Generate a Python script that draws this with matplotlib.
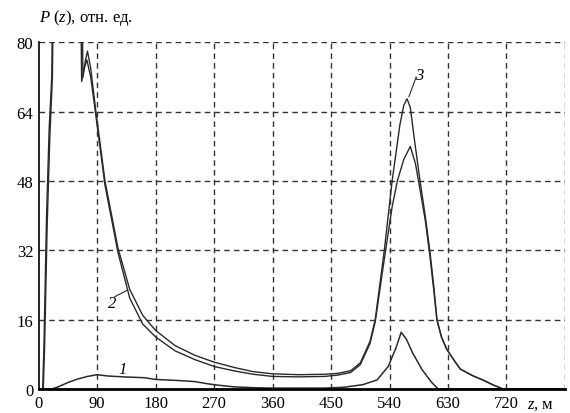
import numpy as np
import matplotlib.pyplot as plt

# кривая 1
z1 = [0, 20, 30, 45, 60, 75, 90, 106, 130, 163, 180, 210, 241, 260, 275, 300, 330, 360,
      440, 470, 499, 521, 538, 550, 558, 566, 575, 590, 605, 615, 810]
p1 = [0, 0, 0.5, 1.5, 2.3, 2.9, 3.3, 3.0, 2.8, 2.6, 2.2, 2.0, 1.7, 1.2, 0.9, 0.5, 0.3, 0.2,
      0.2, 0.4, 1.0, 2.1, 5.2, 9.5, 13.1, 11.5, 8.5, 4.5, 1.5, 0, 0]

# кривая 2
z2 = [0, 7, 9, 13, 17, 21, 23, 64, 66, 70, 74, 80, 88, 102, 122, 140, 160, 180, 210, 240,
      270, 300, 330, 360, 400, 440, 460, 480, 495, 510, 518, 532, 544, 552, 562, 572, 580,
      587, 595, 602, 608, 613, 620, 628, 640, 649, 669, 685, 700, 715, 810]
p2 = [0, 0, 10, 38, 58, 72, 100, 100, 71, 74, 76, 72, 63, 47, 31.5, 21, 15, 12, 8.8, 6.8,
      5.2, 4.2, 3.4, 2.9, 2.8, 2.9, 3.2, 3.8, 5.6, 10.5, 15.5, 30, 42, 48, 53, 56, 52,
      46, 39, 31, 23, 16, 12, 9.2, 6.5, 4.6, 3.0, 2.0, 0.9, 0, 0]

# кривая 3
z3 = [0, 6, 8, 12, 16, 20, 22, 66, 68, 72, 75, 80, 88, 102, 122, 140, 160, 180, 210, 240,
      270, 300, 330, 360, 400, 440, 460, 480, 495, 510, 518, 532, 544, 556, 562, 567, 572,
      578, 587, 595, 602, 608, 613, 620, 628, 640, 649, 669, 685, 700, 715, 810]
p3 = [0, 0, 10, 40, 60, 72, 100, 100, 72, 76, 78, 74, 64, 48, 32.5, 23, 17, 13.5, 10, 7.8,
      6.2, 5.0, 4.0, 3.5, 3.3, 3.4, 3.6, 4.2, 6.0, 11, 16, 32, 48, 61, 65.5, 67, 65,
      58, 48, 40, 32, 24, 16, 12, 9.2, 6.5, 4.6, 3.0, 2.0, 0.9, 0, 0]

xticks = [0, 90, 180, 270, 360, 450, 540, 630, 720]
yticks = [0, 16, 32, 48, 64, 80]

plt.rcParams['font.family'] = ['Liberation Serif', 'DejaVu Serif']
plt.rcParams['mathtext.fontset'] = 'custom'
plt.rcParams['mathtext.it'] = 'Liberation Serif:italic'
plt.rcParams['mathtext.rm'] = 'Liberation Serif'

fig = plt.figure(figsize=(5.7, 4.14), dpi=100)
ax = fig.add_axes([0.068, 0.058, 0.923, 0.837])

ax.plot(z1, p1, color='#2a2a2a', lw=1.1)
ax.plot(z2, p2, color='#2a2a2a', lw=1.0)
ax.plot(z3, p3, color='#2a2a2a', lw=1.0)

ax.set_xlim(0, 810)
ax.set_ylim(0, 80)
ax.set_xticks(xticks)
ax.set_yticks(yticks)
ax.set_xticklabels([str(v) for v in xticks])
ax.tick_params(length=0, labelsize=12, pad=4)

# пунктирная сетка
for v in xticks[1:] + [810]:
    ax.axvline(v, color='#333333', lw=1.0, ls=(0, (4, 3)), zorder=0)
for v in yticks[1:]:
    ax.axhline(v, color='#333333', lw=1.0, ls=(0, (4, 3)), zorder=0)

ax.spines['top'].set_visible(False)
ax.spines['right'].set_visible(False)
ax.spines['left'].set_linewidth(1.2)
ax.spines['bottom'].set_linewidth(2.0)

# подписи кривых
ax.text(122, 3.6, '1', fontsize=12, style='italic')
ax.text(106, 19.0, '2', fontsize=12, style='italic')
ax.plot([117, 136], [21.3, 22.8], color='#2a2a2a', lw=0.8)
ax.text(580, 71.5, '3', fontsize=12, style='italic')
ax.plot([570, 581], [67.5, 72.0], color='#2a2a2a', lw=0.8)

fig.text(0.068, 0.957, r'$P$ ($z$), отн. ед.', fontsize=12, ha='left', va='center')
fig.text(0.925, 0.022, r'$z$, м', fontsize=12, ha='left', va='center')

fig.savefig('out.png', dpi=100)
